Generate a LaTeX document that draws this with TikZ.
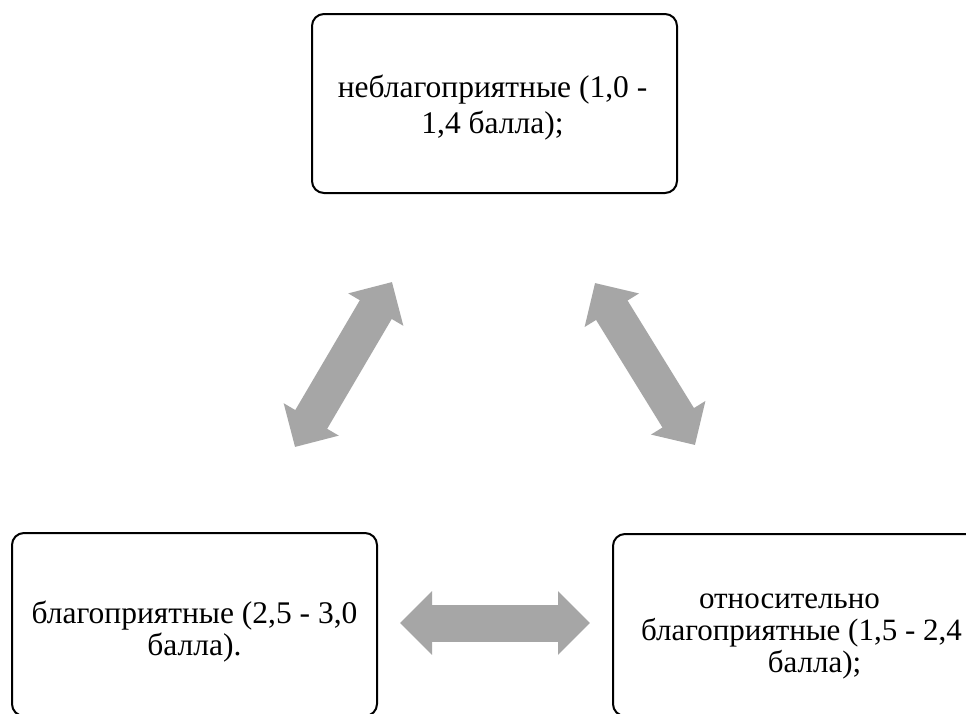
\documentclass[tikz,border=0pt]{standalone}
\usepackage{fontspec}
\setmainfont{LiberationSerif}[Extension=.ttf, UprightFont=*-Regular, BoldFont=*-Bold]
\usetikzlibrary{arrows.meta,calc}
\definecolor{arrgray}{RGB}{166,166,166}
\tikzset{
  box/.style={draw=black, line width=2pt, rounded corners=12pt, inner sep=0pt},
  txt/.style={align=center, font=\fontsize{31.5}{34}\selectfont, inner sep=0pt},
  bigarrow/.style={draw=arrgray, line width=37pt,
    {Triangle[width=62pt,length=32pt]}-{Triangle[width=62pt,length=32pt]}},
}
\begin{document}
\begin{tikzpicture}[x=1pt,y=-1pt]
\useasboundingbox (0,0) rectangle (966,713);
\clip (0,0) rectangle (966,713);
\fill[white] (0,0) rectangle (966,713);
% boxes
\draw[box] (312,14) rectangle (677,193);
\node[inner sep=0pt, minimum width=365pt, minimum height=179pt] (top) at (494.5,103.5) {};
\draw[box] (12,533) rectangle (377,716);
\node[inner sep=0pt, minimum width=365pt, minimum height=183pt] (bl) at (194.5,624.5) {};
\draw[box] (613,534) rectangle (978,716);
\node[inner sep=0pt, minimum width=365pt, minimum height=182pt] (br) at (795.5,625) {};
% texts
\node[txt, font=\fontsize{31.5}{36}\selectfont] (ttop) at ($(top.center)+(-2,4)$) {неблагоприятные (1,0 -\\1,4 балла);};
\node[txt, font=\fontsize{31.5}{32}\selectfont] (tbl) at ($(bl.center)+(0,7)$) {благоприятные (2,5 - 3,0\\балла).};
\node[txt, font=\fontsize{31}{32}\selectfont] (tbr) at ($(br.center)+(6,11)$) {относительно\hspace*{24pt}\\благоприятные (1,5 - 2,4\\\hspace*{26pt}балла);};
% arrow end points
\coordinate (a1) at (392,282);
\coordinate (a2) at (295,447);
\coordinate (b1) at (595,283);
\coordinate (b2) at (695,445);
\coordinate (c1) at (400,623);
\coordinate (c2) at (590,623);
\draw[bigarrow] (a1) -- (a2);
\draw[bigarrow] (b1) -- (b2);
\draw[bigarrow] (c1) -- (c2);
\end{tikzpicture}
\end{document}
